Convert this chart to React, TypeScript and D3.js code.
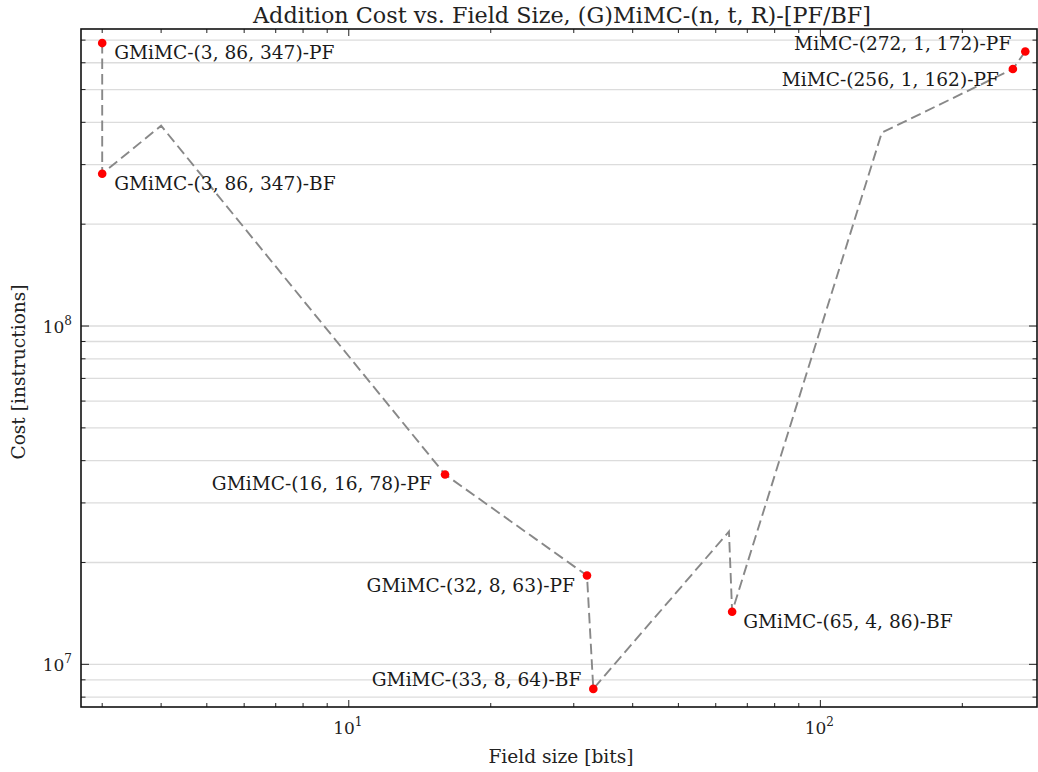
import React, { useEffect, useRef } from "react"
import * as d3 from "d3"

// field size in bits, in the order the dashed line visits them
const fieldSizes = [3, 3, 4, 16, 32, 33, 64, 65, 135, 256, 272]
const costs = [6.86e8, 2.82e8, 3.91e8, 3.64e7, 1.83e7, 8.46e6, 2.47e7, 1.43e7, 3.73e8, 5.75e8, 6.48e8]
// null = point on the line without marker / annotation
const labels: (string | null)[] = [
    "GMiMC-(3, 86, 347)-PF",
    "GMiMC-(3, 86, 347)-BF",
    null,
    "GMiMC-(16, 16, 78)-PF",
    "GMiMC-(32, 8, 63)-PF",
    "GMiMC-(33, 8, 64)-BF",
    null,
    "GMiMC-(65, 4, 86)-BF",
    null,
    "MiMC-(256, 1, 162)-PF",
    "MiMC-(272, 1, 172)-PF",
]

const title = "Addition Cost vs. Field Size, (G)MiMC-(n, t, R)-[PF/BF]"
const xAxisLabel = "Field size [bits]"
const yAxisLabel = "Cost [instructions]"

const xDomain = [2.705, 288]
const yDomain = [7.48e6, 7.55e8]

const width = 1038
const height = 772

const Chart = () => {
    const ref = useRef<SVGGElement>(null)

    useEffect(() => {
        const g = d3.select(ref.current)
        g.selectAll("*").remove()

        const font = "'DejaVu Serif', serif"
        const left = 81, right = 1037, top = 29, bottom = 707

        const xScale = d3.scaleLog().domain(xDomain).range([left, right])
        const yScale = d3.scaleLog().domain(yDomain).range([bottom, top])

        const isMajor = (v: number) => Math.abs(Math.log10(v) - Math.round(Math.log10(v))) < 1e-9

        const yTicks = yScale.ticks()
        const xTicks = xScale.ticks()

        // horizontal grid
        g.selectAll(".grid")
            .data(yTicks)
            .enter().append("line")
                .attr("x1", left).attr("x2", right)
                .attr("y1", d => yScale(d)).attr("y2", d => yScale(d))
                .attr("stroke", "#dcdcdc")
                .attr("stroke-width", 1.3)

        // dashed line
        const pts = fieldSizes.map((x, i) => [x, costs[i]] as [number, number])
        const line = d3.line<[number, number]>()
            .x(d => xScale(d[0]))
            .y(d => yScale(d[1]))

        g.append("path")
            .attr("d", line(pts))
            .attr("fill", "none")
            .attr("stroke", "#888888")
            .attr("stroke-width", 1.9)
            .attr("stroke-dasharray", "10.5,5")

        // markers
        const marked = pts.map((p, i) => ({ p, label: labels[i] })).filter(d => d.label)
        g.selectAll(".dot")
            .data(marked)
            .enter().append("circle")
                .attr("cx", d => xScale(d.p[0]))
                .attr("cy", d => yScale(d.p[1]))
                .attr("r", 4.3)
                .attr("fill", "#ff0000")

        // annotation placement [dx, dy, anchor]
        const place: Record<string, [number, number, string]> = {
            "GMiMC-(3, 86, 347)-PF": [12, 16, "start"],
            "GMiMC-(3, 86, 347)-BF": [12, 16, "start"],
            "GMiMC-(16, 16, 78)-PF": [-13, 15, "end"],
            "GMiMC-(32, 8, 63)-PF": [-12, 16, "end"],
            "GMiMC-(33, 8, 64)-BF": [-12, -2.5, "end"],
            "GMiMC-(65, 4, 86)-BF": [11, 16, "start"],
            "MiMC-(256, 1, 162)-PF": [-14, 17, "end"],
            "MiMC-(272, 1, 172)-PF": [-14, -1, "end"],
        }
        g.selectAll(".ann")
            .data(marked)
            .enter().append("text")
                .attr("x", d => xScale(d.p[0]) + place[d.label!][0])
                .attr("y", d => yScale(d.p[1]) + place[d.label!][1])
                .attr("text-anchor", d => place[d.label!][2])
                .attr("font-family", font)
                .attr("font-size", 18.6)
                .attr("fill", "#1a1a1a")
                .text(d => d.label!)

        // ticks (inward, all four sides)
        xTicks.forEach(t => {
            const len = isMajor(t) ? 7 : 4
            const x = xScale(t)
            g.append("line").attr("x1", x).attr("x2", x).attr("y1", bottom).attr("y2", bottom - len)
                .attr("stroke", "#222").attr("stroke-width", 1)
            g.append("line").attr("x1", x).attr("x2", x).attr("y1", top).attr("y2", top + len)
                .attr("stroke", "#222").attr("stroke-width", 1)
        })
        yTicks.forEach(t => {
            const len = isMajor(t) ? 8 : 4.5
            const y = yScale(t)
            g.append("line").attr("x1", left).attr("x2", left + len).attr("y1", y).attr("y2", y)
                .attr("stroke", "#222").attr("stroke-width", 1)
            g.append("line").attr("x1", right).attr("x2", right - len).attr("y1", y).attr("y2", y)
                .attr("stroke", "#222").attr("stroke-width", 1)
        })

        // frame
        g.append("rect")
            .attr("x", left).attr("y", top)
            .attr("width", right - left).attr("height", bottom - top)
            .attr("fill", "none")
            .attr("stroke", "#111")
            .attr("stroke-width", 1.6)

        // tick labels
        xTicks.filter(isMajor).forEach(t => {
            const txt = g.append("text")
                .attr("x", xScale(t) - 1)
                .attr("y", 734)
                .attr("text-anchor", "middle")
                .attr("font-family", font)
                .attr("font-size", 17)
                .attr("fill", "#222")
            txt.append("tspan").text("10")
            txt.append("tspan").attr("font-size", 12).attr("dy", -8).text(String(Math.round(Math.log10(t))))
        })
        yTicks.filter(isMajor).forEach(t => {
            const txt = g.append("text")
                .attr("x", 72)
                .attr("y", yScale(t) + 7)
                .attr("text-anchor", "end")
                .attr("font-family", font)
                .attr("font-size", 17)
                .attr("fill", "#222")
            txt.append("tspan").text("10")
            txt.append("tspan").attr("font-size", 12).attr("dy", -8).text(String(Math.round(Math.log10(t))))
        })

        // axis labels and title
        g.append("text")
            .attr("x", (left + right) / 2 + 2)
            .attr("y", 763)
            .attr("text-anchor", "middle")
            .attr("font-family", font)
            .attr("font-size", 18.6)
            .attr("fill", "#222")
            .text(xAxisLabel)

        g.append("text")
            .attr("transform", `translate(25, ${(top + bottom) / 2 + 4}) rotate(-90)`)
            .attr("text-anchor", "middle")
            .attr("font-family", font)
            .attr("font-size", 18.6)
            .attr("fill", "#222")
            .text(yAxisLabel)

        g.append("text")
            .attr("x", (left + right) / 2 + 3)
            .attr("y", 23)
            .attr("text-anchor", "middle")
            .attr("font-family", font)
            .attr("font-size", 22.3)
            .attr("fill", "#222")
            .text(title)
    }, [])

    return (
        <svg width={width} height={height} style={{ position: "absolute", left: 0, top: 0, background: "#fff" }}>
            <g ref={ref} />
        </svg>
    )
}

export default function App() {
    return <Chart />
}
